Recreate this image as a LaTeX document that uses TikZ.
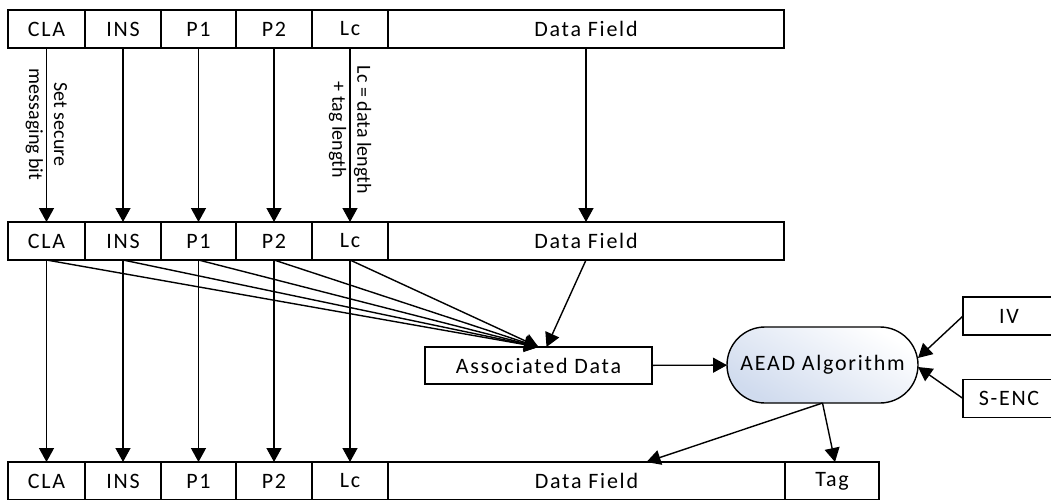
\documentclass[tikz,border=0pt]{standalone}
\usepackage{fontspec}
\setmainfont{Carlito}[LetterSpace=8]
\newfontfamily\notefont{Carlito}
\usetikzlibrary{arrows.meta, positioning}
\definecolor{aeadfill}{RGB}{208,219,238}

\begin{document}
\begin{tikzpicture}[x=1pt, y=-1pt,
            field/.style={draw, line width=1.4pt, minimum height=38pt, inner sep=0pt, outer sep=0pt, font=\fontsize{22}{24}\selectfont},
            link/.style={line width=1.4pt, -{Triangle[length=14pt,width=15pt]}},
            note/.style={rotate=-90, align=center, inner sep=0pt, font=\notefont\fontsize{20}{25}\selectfont}
        ]
            \useasboundingbox (0,0) rectangle (1051,500);
            % incoming command
            \node[field, minimum width=77pt, anchor=north west] (topcla) at (8,10) {CLA};
            \node[field, minimum width=76pt, right=0pt of topcla] (topins) {INS};
            \node[field, minimum width=75pt, right=0pt of topins] (topp1) {P1};
            \node[field, minimum width=76pt, right=0pt of topp1] (topp2) {P2};
            \node[field, minimum width=76pt, right=0pt of topp2] (toplc) {Lc};
            \node[field, minimum width=396pt, right=0pt of toplc] (topdata) {Data Field};
            % modified header
            \node[field, minimum width=77pt, anchor=north west] (midcla) at (8,222) {CLA};
            \node[field, minimum width=76pt, right=0pt of midcla] (midins) {INS};
            \node[field, minimum width=75pt, right=0pt of midins] (midp1) {P1};
            \node[field, minimum width=76pt, right=0pt of midp1] (midp2) {P2};
            \node[field, minimum width=76pt, right=0pt of midp2] (midlc) {Lc};
            \node[field, minimum width=396pt, right=0pt of midlc] (middata) {Data Field};
            % protected command
            \node[field, minimum width=77pt, anchor=north west] (botcla) at (8,462) {CLA};
            \node[field, minimum width=76pt, right=0pt of botcla] (botins) {INS};
            \node[field, minimum width=75pt, right=0pt of botins] (botp1) {P1};
            \node[field, minimum width=76pt, right=0pt of botp1] (botp2) {P2};
            \node[field, minimum width=76pt, right=0pt of botp2] (botlc) {Lc};
            \node[field, minimum width=397pt, right=0pt of botlc] (botdata) {Data Field};
            \node[field, minimum width=94pt, right=0pt of botdata] (bottag) {Tag};
            % AEAD inputs
            \node[field, minimum width=227pt, minimum height=37pt] (assoc) at (538.5,365.5) {Associated Data};
            \node[field, minimum width=191pt, minimum height=76pt, rounded corners=38pt, bottom color=aeadfill, top color=white, shading angle=-30] (aead) at (822.5,365) {AEAD Algorithm};
            \node[field, minimum width=92pt, anchor=west] (iv) at (963,316) {IV};
            \node[field, minimum width=92pt, anchor=west] (senc) at (963,398.5) {S-ENC};

            \draw[link] (topcla) -- node[note, pos=0.44] {Set secure\\messaging bit} (midcla);
            \draw[link] (topins) -- (midins);
            \draw[link] (topp1) -- (midp1);
            \draw[link] (topp2) -- (midp2);
            \draw[link] (toplc) -- node[note, pos=0.47] {Lc = data length\\+ tag length} (midlc);
            \draw[link] (topdata) -- (middata);

            \draw[link] (midcla) -- (botcla);
            \draw[link] (midins) -- (botins);
            \draw[link] (midp1) -- (botp1);
            \draw[link] (midp2) -- (botp2);
            \draw[link] (midlc) -- (botlc);

            \draw[link] (midcla.south) -- (assoc.north);
            \draw[link] (midins.south) -- (assoc.north);
            \draw[link] (midp1.south) -- (assoc.north);
            \draw[link] (midp2.south) -- (assoc.north);
            \draw[link] (midlc.south) -- (assoc.north);
            \draw[link] (middata.south) -- ([xshift=8pt]assoc.north);

            \draw[link] (assoc) -- (aead);
            \draw[link] (iv.west) -- ([yshift=7pt]aead.east);
            \draw[link] (senc.west) -- ([yshift=-2pt]aead.east);
            \draw[link] (aead.south) -- ([xshift=60pt]botdata.north);
            \draw[link] (aead.south) -- ([xshift=3pt]bottag.north);
        \end{tikzpicture}
\end{document}
